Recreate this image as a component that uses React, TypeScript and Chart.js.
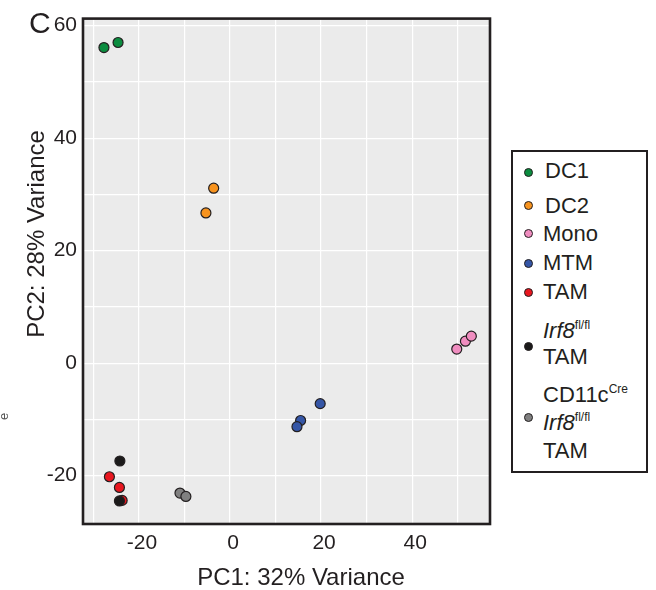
import React, { useEffect, useRef } from "react";
import { Chart, registerables } from "chart.js";
Chart.register(...registerables);

// ---- data ----
const seriesNames = ["DC1", "DC2", "Mono", "MTM", "TAM", "Irf8 TAM", "CD11cCre Irf8 TAM"];
const seriesColors = ["#0b8c3f", "#f7931e", "#f08dc0", "#3556a6", "#e8161f", "#1b1a1a", "#808080"];

const dc1X = [-27.7, -24.6];
const dc1Y = [56.1, 57.0];
const dc2X = [-3.6, -5.3];
const dc2Y = [31.1, 26.7];
const monoX = [49.8, 51.7, 53.0];
const monoY = [2.5, 3.9, 4.8];
const mtmX = [19.8, 15.5, 14.7];
const mtmY = [-7.2, -10.2, -11.3];
const tamX = [-26.5, -24.3, -23.7];
const tamY = [-20.2, -22.1, -24.4];
const irf8TamX = [-24.2, -24.3];
const irf8TamY = [-17.4, -24.5];
const cd11cTamX = [-11.0, -9.7];
const cd11cTamY = [-23.1, -23.7];

const seriesX = [dc1X, dc2X, monoX, mtmX, tamX, irf8TamX, cd11cTamX];
const seriesY = [dc1Y, dc2Y, monoY, mtmY, tamY, irf8TamY, cd11cTamY];

const xTickValues = [-30, -20, -10, 0, 10, 20, 30, 40, 50];
const yTickValues = [-20, -10, 0, 10, 20, 30, 40, 50, 60];
const xLabelled = [-20, 0, 20, 40];
const yLabelled = [-20, 0, 20, 40, 60];

const xTitle = "PC1: 32% Variance";
const yTitle = "PC2: 28% Variance";
const panelLabel = "C";

type Seg = { t: string; i?: boolean; sup?: boolean };
const legendLabels: Seg[][][] = [
  [[{ t: "DC1" }]],
  [[{ t: "DC2" }]],
  [[{ t: "Mono" }]],
  [[{ t: "MTM" }]],
  [[{ t: "TAM" }]],
  [[{ t: "Irf8", i: true }, { t: "fl/fl", sup: true }], [{ t: "TAM" }]],
  [[{ t: "CD11c" }, { t: "Cre", sup: true }], [{ t: "Irf8", i: true }, { t: "fl/fl", sup: true }], [{ t: "TAM" }]],
];

// ---- layout (page coordinates) ----
const legendDotY = [172, 205, 233, 263, 292, 346, 417];
const legendLineY = [[171], [206], [234], [263], [292], [331, 357], [395, 423, 451]];

const FONT = "'Liberation Sans', Arial, Helvetica, sans-serif";
const INK = "#231f20";

export default function App() {
  const canvasRef = useRef<HTMLCanvasElement | null>(null);

  useEffect(() => {
    if (!canvasRef.current) return;
    const datasets = seriesNames.map((name, k) => ({
      label: name,
      data: seriesX[k].map((x, j) => ({ x, y: seriesY[k][j] })),
      backgroundColor: seriesColors[k],
      borderColor: INK,
      borderWidth: 1.2,
      pointRadius: 5,
      pointHoverRadius: 5,
      showLine: false,
      order: 20 - k,
    }));

    const framePlugin = {
      id: "frame",
      beforeDraw(chart: any) {
        const { ctx, chartArea: a } = chart;
        ctx.save();
        ctx.fillStyle = "#ebebeb";
        ctx.fillRect(a.left, a.top, a.right - a.left, a.bottom - a.top);
        ctx.restore();
      },
      afterDraw(chart: any) {
        const { ctx, chartArea: a } = chart;
        ctx.save();
        ctx.strokeStyle = INK;
        ctx.lineWidth = 2.6;
        ctx.strokeRect(a.left, a.top, a.right - a.left, a.bottom - a.top);
        ctx.fillStyle = INK;
        ctx.textAlign = "center";
        ctx.textBaseline = "middle";
        ctx.font = `24px ${FONT}`;
        ctx.fillText(xTitle, 301, 578);
        ctx.translate(37, 234);
        ctx.rotate(-Math.PI / 2);
        ctx.fillText(yTitle, 0, 0);
        ctx.restore();
      },
    };

    const chart = new Chart(canvasRef.current, {
      type: "scatter",
      data: { datasets },
      options: {
        animation: false,
        responsive: false,
        layout: { padding: { top: 15, right: 166, left: 0, bottom: 0 } },
        plugins: { legend: { display: false }, tooltip: { enabled: false } },
        scales: {
          x: {
            type: "linear",
            min: -32.3,
            max: 57.1,
            afterBuildTicks: (s: any) => {
              s.ticks = xTickValues.map((v) => ({ value: v }));
            },
            afterFit: (s: any) => {
              s.height = 66;
            },
            ticks: {
              callback: (v: any) => (xLabelled.includes(Number(v)) ? String(v) : ""),
              color: INK,
              font: { family: FONT, size: 21 },
              padding: 7,
              labelOffset: 3,
              maxRotation: 0,
              autoSkip: false,
            },
            grid: { color: "#ffffff", lineWidth: 1.2, drawTicks: false },
            border: { display: false },
          },
          y: {
            type: "linear",
            min: -28.6,
            max: 61.25,
            afterBuildTicks: (s: any) => {
              s.ticks = yTickValues.map((v) => ({ value: v }));
            },
            afterFit: (s: any) => {
              s.width = 83;
            },
            ticks: {
              callback: (v: any) => (yLabelled.includes(Number(v)) ? String(v) : ""),
              color: INK,
              font: { family: FONT, size: 21 },
              padding: 6,
              autoSkip: false,
            },
            grid: { color: "#ffffff", lineWidth: 1.2, drawTicks: false },
            border: { display: false },
          },
        },
      },
      plugins: [framePlugin],
    } as any);
    return () => chart.destroy();
  }, []);

  const boxLeft = 511;
  const boxTop = 150;
  const bw = 2;

  return (
    <div style={{ position: "absolute", left: 0, top: 0, width: 656, height: 590, background: "#fff", fontFamily: FONT, color: INK }}>
      <canvas ref={canvasRef} width={656} height={590} style={{ position: "absolute", left: 0, top: 0 }} />
      <div style={{ position: "absolute", left: 29, top: 6, fontSize: 30, lineHeight: "34px" }}>{panelLabel}</div>
      <div
        style={{
          position: "absolute",
          left: -3,
          top: 420,
          fontSize: 13,
          color: "#555",
          transform: "rotate(-90deg)",
          transformOrigin: "left top",
          lineHeight: "13px",
        }}
      >
        e
      </div>
      <div
        style={{
          position: "absolute",
          left: boxLeft,
          top: boxTop,
          width: 137,
          height: 323,
          boxSizing: "border-box",
          border: `${bw}px solid ${INK}`,
          background: "#fff",
        }}
      >
        {seriesNames.map((name, k) => (
          <React.Fragment key={name}>
            <div
              style={{
                position: "absolute",
                left: 528 - boxLeft - bw - 4.5,
                top: legendDotY[k] - boxTop - bw - 4.5,
                width: 9,
                height: 9,
                boxSizing: "border-box",
                borderRadius: "50%",
                background: seriesColors[k],
                border: `0.8px solid ${INK}`,
              }}
            />
            {legendLabels[k].map((line, li) => (
              <div
                key={li}
                style={{
                  position: "absolute",
                  left: 545 - boxLeft - bw - (k >= 2 ? 2 : 0),
                  top: legendLineY[k][li] - boxTop - bw - 12.7,
                  fontSize: 22,
                  lineHeight: "26px",
                  whiteSpace: "nowrap",
                }}
              >
                {line.map((s, si) =>
                  s.sup ? (
                    <span key={si} style={{ fontSize: 12, position: "relative", top: -9 }}>
                      {s.t}
                    </span>
                  ) : (
                    <span key={si} style={{ fontStyle: s.i ? "italic" : "normal" }}>
                      {s.t}
                    </span>
                  )
                )}
              </div>
            ))}
          </React.Fragment>
        ))}
      </div>
    </div>
  );
}
